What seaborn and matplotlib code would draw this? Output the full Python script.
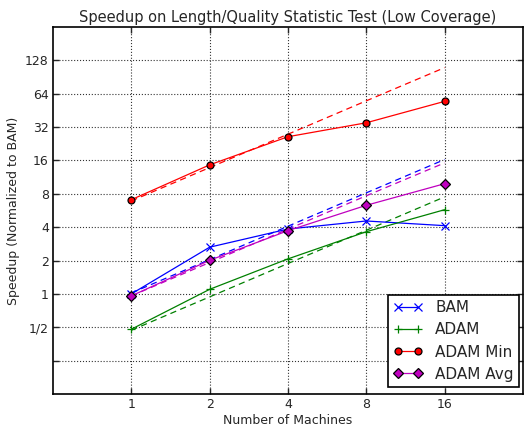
import matplotlib
matplotlib.use("Agg")
import matplotlib.pyplot as plt
import seaborn as sns
import numpy as np

machines = [1, 2, 4, 8, 16]
bam = [1.0, 2.64, 3.85, 4.55, 4.13]
adam = [0.48, 1.10, 2.07, 3.64, 5.75]
adam_min = [7.08, 14.6, 26.2, 35.0, 54.6]
adam_avg = [0.96, 2.01, 3.72, 6.3, 9.87]

bam_ideal = [1.02, 2.04, 4.08, 8.16, 16.3]
adam_ideal = [0.47, 0.94, 1.88, 3.75, 7.5]
adam_min_ideal = [6.9, 13.8, 27.6, 55.2, 110.0]
adam_avg_ideal = [0.96, 1.92, 3.84, 7.68, 15.2]

ytick_vals = [0.25, 0.5, 1, 2, 4, 8, 16, 32, 64, 128]
ytick_labels = ["", "1/2", "1", "2", "4", "8", "16", "32", "64", "128"]
xtick_vals = [1, 2, 4, 8, 16]
xtick_labels = ["1", "2", "4", "8", "16"]

sns.set_style("ticks")
plt.rcParams['font.family'] = ['DejaVu Sans']

fig = plt.figure(figsize=(5.26, 4.26), dpi=100)
ax = fig.add_axes([0.1008, 0.0751, 0.8932, 0.8615])

series = [
    ("BAM", bam, bam_ideal, 'b', 'x', 'b', 5.5),
    ("ADAM", adam, adam_ideal, 'g', '+', 'g', 5.5),
    ("ADAM Min", adam_min, adam_min_ideal, 'r', 'o', 'k', 5),
    ("ADAM Avg", adam_avg, adam_avg_ideal, 'm', 'D', 'k', 5.5),
]
for name, vals, ideal, col, mk, mec, ms in series:
    sns.lineplot(x=machines, y=ideal, ax=ax, color=col, linestyle='--',
                 linewidth=0.9, legend=False, label='_nolegend_',
                 dashes=False)
    ax.lines[-1].set_dashes([5, 3.5])
for name, vals, ideal, col, mk, mec, ms in series:
    sns.lineplot(x=machines, y=vals, ax=ax, color=col, marker=mk,
                 markersize=ms, markeredgecolor=mec, markeredgewidth=0.9,
                 linewidth=0.9, label=name)

ax.set_xscale('log', base=2)
ax.set_yscale('log', base=2)
ax.set_xlim(0.5, 32)
ax.set_ylim(0.125, 256)
ax.set_xticks(xtick_vals)
ax.set_xticklabels(xtick_labels)
ax.set_yticks(ytick_vals)
ax.set_yticklabels(ytick_labels)
ax.minorticks_off()
ax.tick_params(direction='in', top=True, right=True, labelsize=9, length=4,
               width=1, pad=3)
ax.grid(True, linestyle=':', color='#333333', linewidth=0.8)
for s in ax.spines.values():
    s.set_linewidth(1.2)
    s.set_color('k')

ax.set_title("Speedup on Length/Quality Statistic Test (Low Coverage)",
             fontsize=10.5, pad=3.5)
ax.set_xlabel("Number of Machines", fontsize=9, labelpad=2)
ax.set_ylabel("Speedup (Normalized to BAM)", fontsize=9, labelpad=4)

leg = ax.legend(loc='lower right', bbox_to_anchor=(0.9915, 0.019),
                numpoints=2, prop={'size': 11}, fancybox=False,
                framealpha=1, edgecolor='k', borderaxespad=0, handlelength=1.9,
                labelspacing=0.47, handletextpad=0.8, borderpad=0.35)
leg.get_frame().set_linewidth(1.2)
for line in leg.get_lines():
    line.set_linestyle('-')

fig.savefig("out.png", dpi=100)
